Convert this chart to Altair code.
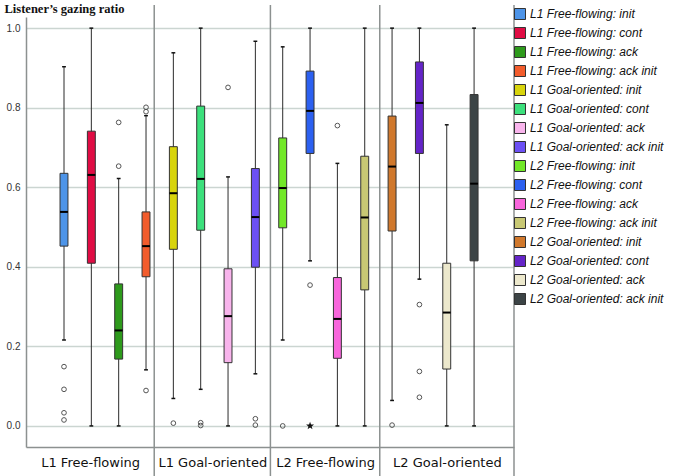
import altair as alt
import pandas as pd

names = [
    "L1 Free-flowing: init", "L1 Free-flowing: cont", "L1 Free-flowing: ack", "L1 Free-flowing: ack init",
    "L1 Goal-oriented: init", "L1 Goal-oriented: cont", "L1 Goal-oriented: ack", "L1 Goal-oriented: ack init",
    "L2 Free-flowing: init", "L2 Free-flowing: cont", "L2 Free-flowing: ack", "L2 Free-flowing: ack init",
    "L2 Goal-oriented: init", "L2 Goal-oriented: cont", "L2 Goal-oriented: ack", "L2 Goal-oriented: ack init",
]
colors = [
    "#4d94e8", "#e00c44", "#2e9a1c", "#f25c2c",
    "#d8d40c", "#3ce07c", "#f8b4ec", "#6c50f4",
    "#72e828", "#2c60f0", "#f866dc", "#c8c874",
    "#d0782c", "#6424c8", "#ece8cc", "#3c4446",
]
lo  = [0.216, 0.0, 0.0, 0.141, 0.069, 0.092, 0.0, 0.131, 0.216, 0.415, 0.0, 0.0, 0.064, 0.369, 0.0, 0.0]
q1  = [0.452, 0.409, 0.168, 0.375, 0.444, 0.492, 0.159, 0.399, 0.498, 0.685, 0.170, 0.342, 0.490, 0.685, 0.143, 0.415]
med = [0.538, 0.631, 0.240, 0.452, 0.585, 0.621, 0.276, 0.525, 0.598, 0.792, 0.269, 0.524, 0.652, 0.812, 0.285, 0.609]
q3  = [0.635, 0.741, 0.357, 0.538, 0.702, 0.804, 0.395, 0.647, 0.724, 0.892, 0.373, 0.678, 0.779, 0.915, 0.409, 0.833]
hi  = [0.903, 1.0, 0.622, 0.780, 0.938, 1.0, 0.626, 0.967, 0.953, 1.0, 0.660, 1.0, 1.0, 1.0, 0.757, 1.0]

out_idx = [0, 0, 0, 0, 2, 2, 3, 3, 3, 4, 5, 5, 6, 7, 7, 8, 9, 10, 12, 13, 13, 13]
out_val = [0.149, 0.092, 0.033, 0.015, 0.763, 0.653, 0.801, 0.790, 0.089, 0.007, 0.008, 0.001,
           0.851, 0.018, 0.002, 0.0, 0.354, 0.755, 0.002, 0.305, 0.137, 0.072]
ext_idx = [9]
ext_val = [0.0]

groups = ["L1 Free-flowing", "L1 Goal-oriented", "L2 Free-flowing", "L2 Goal-oriented"]
bounds = [-1.39, 3.3, 7.55, 11.55, 16.46]

df = pd.DataFrame({"name": names, "idx": list(range(16)), "lo": lo, "q1": q1,
                   "med": med, "q3": q3, "hi": hi})
df_out = pd.DataFrame({"idx": out_idx, "v": out_val})
df_ext = pd.DataFrame({"idx": ext_idx, "v": ext_val})
df_sep = pd.DataFrame({"s": bounds[1:]})

centers = [(bounds[i] + bounds[i + 1]) / 2 for i in range(4)]
expr = "'" + groups[3] + "'"
for i in range(2, -1, -1):
    expr = f"datum.value < {bounds[i + 1]} ? '{groups[i]}' : ({expr})"

YT = "Listener\u2019s gazing ratio"
xs = alt.Scale(domain=[bounds[0], bounds[-1]], nice=False, zero=False)
ys = alt.Scale(domain=[-0.053, 1.028], nice=False, zero=False)

base = alt.Chart(df).transform_calculate(
    bl="datum.idx - 0.145", br="datum.idx + 0.145",
    cl="datum.idx - 0.07", cr="datum.idx + 0.07")

whisk = base.mark_rule(color="#2b2b2b", strokeWidth=1).encode(
    x=alt.X("idx:Q", scale=xs, title=None,
            axis=alt.Axis(values=centers, labelExpr=expr, ticks=False, grid=False,
                          domainColor="#8c9190", domainWidth=1.5,
                          labelFont="DejaVu Sans", labelFontSize=13, labelColor="#111",
                          labelPadding=9, labelFlush=False)),
    y=alt.Y("lo:Q", scale=ys, title=YT,
            axis=alt.Axis(values=[0, 0.2, 0.4, 0.6, 0.8, 1.0], format=".1f", ticks=False,
                          grid=True, gridColor="#cbd5d1", gridWidth=1.5,
                          domainColor="#8c9190", domainWidth=1.5,
                          labelFont="Liberation Sans", labelFontSize=10, labelColor="#333",
                          labelPadding=6,
                          titleAngle=0, titleAlign="left", titleBaseline="middle",
                          titleX=-22, titleY=-9, titleFont="Liberation Serif",
                          titleFontSize=12.5, titleFontWeight="bold", titleColor="#111")),
    y2="hi:Q")

cap_hi = base.mark_rule(color="#111", strokeWidth=1.5).encode(
    x=alt.X("cl:Q", scale=xs, title=None), x2="cr:Q", y=alt.Y("hi:Q", scale=ys, title=YT))
cap_lo = base.mark_rule(color="#111", strokeWidth=1.5).encode(
    x=alt.X("cl:Q", scale=xs, title=None), x2="cr:Q", y=alt.Y("lo:Q", scale=ys, title=YT))

box = base.mark_rect(stroke="#333", strokeWidth=1).encode(
    x=alt.X("bl:Q", scale=xs, title=None), x2="br:Q",
    y=alt.Y("q1:Q", scale=ys, title=YT), y2="q3:Q",
    color=alt.Color("name:N", scale=alt.Scale(domain=names, range=colors),
                    legend=alt.Legend(title=None, orient="none", legendX=488, legendY=-9,
                                      symbolType="square", symbolSize=121,
                                      symbolStrokeColor="#333", symbolStrokeWidth=1,
                                      symbolOpacity=1,
                                      labelFont="Liberation Sans", labelFontStyle="italic",
                                      labelFontSize=12, labelColor="#111", labelOffset=4,
                                      rowPadding=3, padding=0, labelLimit=200)))

median = base.mark_rule(color="#000", strokeWidth=2).encode(
    x=alt.X("bl:Q", scale=xs, title=None), x2="br:Q", y=alt.Y("med:Q", scale=ys, title=YT))

outl = alt.Chart(df_out).mark_point(shape="circle", filled=False, color="#555",
                                    size=22, strokeWidth=1, opacity=1).encode(
    x=alt.X("idx:Q", scale=xs, title=None), y=alt.Y("v:Q", scale=ys, title=YT))

star_path = ("M0,-1L0.235,-0.324L0.951,-0.309L0.38,0.124L0.588,0.809L0,0.4"
             "L-0.588,0.809L-0.38,0.124L-0.951,-0.309L-0.235,-0.324Z")
ext = alt.Chart(df_ext).mark_point(shape=star_path, filled=True, color="#111",
                                   size=70, opacity=1).encode(
    x=alt.X("idx:Q", scale=xs, title=None), y=alt.Y("v:Q", scale=ys, title=YT))

sep = alt.Chart(df_sep).mark_rule(color="#8c9190", strokeWidth=1.5).encode(
    x=alt.X("s:Q", scale=xs, title=None), y=alt.value(-12), y2=alt.value(459))

chart = alt.layer(whisk, sep, cap_hi, cap_lo, box, median, outl, ext).properties(
    width=488, height=430,
    autosize=alt.AutoSizeParams(type="none"),
    padding={"left": 26, "top": 17, "right": 171, "bottom": 29},
    background="white",
).configure_view(strokeWidth=0)

chart.save("out.html", embed_options={"renderer": "svg", "actions": False})
